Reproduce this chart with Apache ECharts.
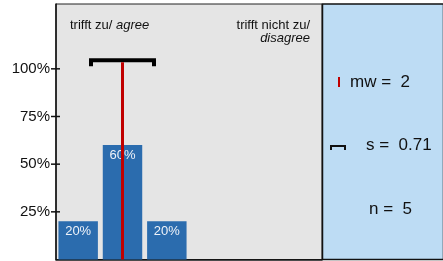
<!DOCTYPE html>
<html lang="de">
<head>
    <meta charset="UTF-8">
    <title>Antwortverteilung</title>
    <script src="https://cdn.jsdelivr.net/npm/echarts@6.0.0/dist/echarts.min.js"></script>
    <style>
        * {
            margin: 0;
            padding: 0;
        }

        body {
            background: #fff;
        }

        #chart {
            width: 443px;
            height: 261px;
        }
    </style>
</head>
<body>
<div id="chart"></div>

<script>
    // Daten
    const categories = ['1', '2', '3', '4', '5', '6'];
    const shares = [20, 60, 20, 0, 0, 0];
    const yTicks = [25, 50, 75, 100];
    const meanValue = 2;
    const sdValue = 0.71;
    const nValue = 5;
    const sdHeight = 104.5;   // Hoehe des Streuungsbalkens in %
    const meanTop = 103.5;

    const labelFont = 'Liberation Sans, Arial, sans-serif';

    let myChart = echarts.init(document.getElementById('chart'), null, {renderer: 'canvas'});

    let option = {
        animation: false,
        grid: {
            left: 56,
            right: 121,
            top: 4,
            bottom: 1.5,
            show: true,
            backgroundColor: '#e5e5e5',
            borderColor: '#222',
            borderWidth: 1
        },
        xAxis: [
            {
                type: 'category',
                data: categories,
                boundaryGap: true,
                axisLine: {lineStyle: {color: '#111', width: 1.5}},
                axisTick: {show: false},
                axisLabel: {show: false}
            },
            {
                type: 'value',
                min: 0.5,
                max: 6.5,
                show: false
            }
        ],
        yAxis: {
            type: 'value',
            min: 0,
            max: 134,
            axisLine: {show: true, lineStyle: {color: '#111', width: 1.5}},
            axisTick: {show: false},
            axisLabel: {
                customValues: yTicks,
                formatter: '{value}%',
                color: '#111',
                fontSize: 15,
                fontFamily: labelFont,
                margin: 6
            },
            splitLine: {show: false}
        },
        series: [
            {
                type: 'bar',
                data: shares,
                barWidth: '89%',
                itemStyle: {color: '#2b6cae'},
                label: {
                    show: true,
                    position: 'insideTop',
                    distance: 4,
                    color: '#eef2f8',
                    fontSize: 13,
                    fontFamily: labelFont,
                    formatter: function (p) {
                        return p.value > 0 ? p.value + '%' : '';
                    }
                }
            },
            {
                // Teilstriche, die die y-Achse kreuzen
                type: 'custom',
                xAxisIndex: 1,
                clip: false,
                z: 5,
                data: yTicks.map(function (v) { return [0.5, v]; }),
                renderItem: function (params, api) {
                    let p = api.coord([api.value(0), api.value(1)]);
                    return {
                        type: 'line',
                        shape: {x1: p[0] - 5, y1: p[1], x2: p[0] + 4, y2: p[1]},
                        style: {stroke: '#111', lineWidth: 1.5}
                    };
                }
            },
            {
                // Mittelwert
                type: 'line',
                xAxisIndex: 1,
                data: [[meanValue, 0], [meanValue, meanTop]],
                symbol: 'none',
                lineStyle: {color: '#c00000', width: 3}
            },
            {
                // Standardabweichung
                type: 'custom',
                xAxisIndex: 1,
                data: [[meanValue, sdValue, sdHeight]],
                renderItem: function (params, api) {
                    let m = api.value(0), s = api.value(1), h = api.value(2);
                    let l = api.coord([m - s, h]);
                    let r = api.coord([m + s, h]);
                    let st = {fill: '#000'};
                    return {
                        type: 'group',
                        children: [
                            {type: 'rect', shape: {x: l[0] - 2, y: l[1] - 2, width: r[0] - l[0] + 4, height: 4}, style: st},
                            {type: 'rect', shape: {x: l[0] - 2, y: l[1], width: 4, height: 6}, style: st},
                            {type: 'rect', shape: {x: r[0] - 2, y: l[1], width: 4, height: 6}, style: st}
                        ]
                    };
                }
            }
        ],
        graphic: [
            {
                type: 'rect',
                shape: {x: 322.5, y: 4, width: 121, height: 255.5},
                style: {fill: '#bddcf4', stroke: '#111', lineWidth: 1.5},
                z: 0
            },
            {
                type: 'text',
                x: 70, y: 25,
                style: {
                    text: '{n|trifft zu/ }{i|agree}',
                    verticalAlign: 'middle',
                    rich: {
                        n: {fontSize: 13, fontFamily: labelFont, fill: '#111'},
                        i: {fontSize: 13, fontFamily: labelFont, fontStyle: 'italic', fill: '#111'}
                    }
                }
            },
            {
                type: 'text',
                x: 310, y: 25,
                style: {text: 'trifft nicht zu/', align: 'right', verticalAlign: 'middle', fontSize: 13, fontFamily: labelFont, fill: '#111'}
            },
            {
                type: 'text',
                x: 310, y: 38,
                style: {text: 'disagree', align: 'right', verticalAlign: 'middle', fontSize: 13, fontStyle: 'italic', fontFamily: labelFont, fill: '#111'}
            },
            // Legende rechts
            {
                type: 'rect',
                shape: {x: 338, y: 77, width: 2, height: 10},
                style: {fill: '#c00000'}
            },
            {
                type: 'text',
                x: 350, y: 82,
                style: {text: 'mw =  ' + meanValue, verticalAlign: 'middle', fontSize: 17, fontFamily: labelFont, fill: '#111'}
            },
            {
                type: 'polyline',
                shape: {points: [[331, 150], [331, 146], [345, 146], [345, 150]]},
                style: {stroke: '#111', lineWidth: 2, fill: null}
            },
            {
                type: 'text',
                x: 366, y: 145,
                style: {text: 's =  ' + sdValue, verticalAlign: 'middle', fontSize: 17, fontFamily: labelFont, fill: '#111'}
            },
            {
                type: 'text',
                x: 369, y: 209,
                style: {text: 'n =  ' + nValue, verticalAlign: 'middle', fontSize: 17, fontFamily: labelFont, fill: '#111'}
            }
        ]
    };

    option && myChart.setOption(option);
</script>
</body>
</html>
